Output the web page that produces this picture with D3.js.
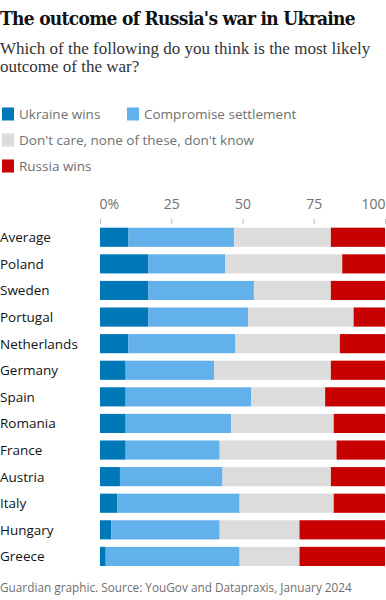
<!DOCTYPE html>
<html>
<head>
<meta charset="utf-8">
<script src="https://cdn.jsdelivr.net/npm/d3@7"></script>
<style>
  body { margin: 0; background: #fff; }
  text { font-family: "Open Sans", sans-serif; }
</style>
</head>
<body>
<svg id="chart" width="386" height="600"></svg>
<script>
// Data (percent)
const countries = ["Average", "Poland", "Sweden", "Portugal", "Netherlands", "Germany", "Spain",
    "Romania", "France", "Austria", "Italy", "Hungary", "Greece"];
const ukraineWins = [10, 17, 17, 17, 10, 9, 9, 9, 9, 7, 6, 4, 2];
const compromise = [37, 27, 37, 35, 38, 31, 44, 37, 33, 36, 43, 38, 47];
const dontKnow = [34, 41, 27, 37, 37, 41, 26, 36, 41, 38, 33, 28, 21];
const russiaWins = [19, 15, 19, 11, 16, 19, 21, 18, 17, 19, 18, 30, 30];
const ticks = [0, 25, 50, 75, 100];

const keys = ["ukraine", "compromise", "dontknow", "russia"];
const names = ["Ukraine wins", "Compromise settlement", "Don't care, none of these, don't know", "Russia wins"];
const colors = ["#0077b6", "#63b1ea", "#dcdcdc", "#c70000"];

const rows = countries.map((c, i) => ({
    country: c,
    ukraine: ukraineWins[i],
    compromise: compromise[i],
    dontknow: dontKnow[i],
    russia: russiaWins[i]
}));

const stack = d3.stack().keys(keys).offset(d3.stackOffsetExpand);
const series = stack(rows);

const svg = d3.select("#chart");

// Title & subtitle
svg.append("text")
    .attr("x", 0).attr("y", 25)
    .style("font-family", "'DejaVu Serif', serif")
    .style("font-weight", "bold")
    .style("font-stretch", "condensed")
    .style("font-size", "19px")
    .style("fill", "#121212")
    .style("letter-spacing", "-0.7px")
    .text("The outcome of Russia's war in Ukraine");

svg.append("text")
    .attr("x", 0).attr("y", 54)
    .style("font-family", "'Liberation Serif', serif")
    .style("font-size", "17px")
    .style("fill", "#333")
    .selectAll("tspan")
    .data(["Which of the following do you think is the most likely", "outcome of the war?"])
    .join("tspan")
    .attr("x", 0)
    .attr("dy", (d, i) => i ? 18 : 0)
    .text(d => d);

// Legend
const legendPos = [[2, 114], [127, 114], [2, 140], [2, 166]];
const legend = svg.append("g")
    .selectAll("g")
    .data(names)
    .join("g")
    .attr("transform", (d, i) => `translate(${legendPos[i][0]},${legendPos[i][1]})`);

legend.append("rect")
    .attr("x", 0).attr("y", -6.5)
    .attr("width", 12).attr("height", 13)
    .attr("fill", (d, i) => colors[i]);

legend.append("text")
    .attr("x", 17).attr("y", 5)
    .style("font-size", "13.5px")
    .style("fill", "#707070")
    .text(d => d);

// Scales
const x = d3.scaleLinear().domain([0, 1]).range([100, 385]);
const y = d3.scaleBand().domain(countries).range([227.7, 566]).paddingInner(0.28).paddingOuter(0);

// Axis
const axis = svg.append("g").attr("transform", "translate(0,224)")
    .call(d3.axisTop(x)
        .tickValues(ticks.map(t => t / 100))
        .tickSize(5)
        .tickFormat(d => d === 0 ? "0%" : Math.round(d * 100)));
axis.select(".domain").remove();
axis.selectAll(".tick line").attr("stroke", "#bbb");
axis.selectAll(".tick text")
    .attr("y", -15)
    .style("font-family", "'Open Sans', sans-serif")
    .style("font-size", "14px")
    .style("fill", "#707070")
    .attr("text-anchor", (d, i) => i === 0 ? "start" : i === ticks.length - 1 ? "end" : "middle")
    .attr("dx", (d, i) => i === 0 ? -1 : 0);

// Bars
svg.append("g")
    .selectAll("g")
    .data(series)
    .join("g")
    .attr("fill", (d, i) => colors[i])
    .selectAll("rect")
    .data(d => d)
    .join("rect")
    .attr("x", d => x(d[0]))
    .attr("y", d => y(d.data.country))
    .attr("width", d => x(d[1]) - x(d[0]))
    .attr("height", y.bandwidth());

// Country labels
svg.append("g")
    .selectAll("text")
    .data(countries)
    .join("text")
    .attr("x", 0)
    .attr("y", d => y(d) + y.bandwidth() / 2 + 5)
    .style("font-size", "13.5px")
    .style("fill", "#121212")
    .text(d => d);

// Source
svg.append("text")
    .attr("x", 0).attr("y", 592)
    .style("font-size", "11.8px")
    .style("fill", "#707070")
    .text("Guardian graphic. Source: YouGov and Datapraxis, January 2024");
</script>
</body>
</html>
